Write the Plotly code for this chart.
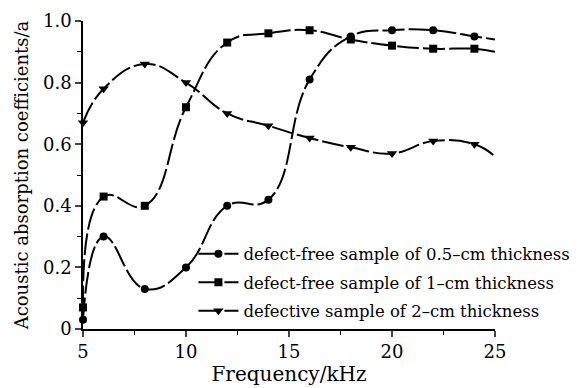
import plotly.graph_objects as go

freq = [5, 6, 8, 10, 12, 14, 16, 18, 20, 22, 24, 25]
free_05cm = [0.03, 0.30, 0.13, 0.20, 0.40, 0.42, 0.81, 0.95, 0.97, 0.97, 0.95, 0.94]
free_1cm = [0.07, 0.43, 0.40, 0.72, 0.93, 0.96, 0.97, 0.94, 0.92, 0.91, 0.91, 0.90]
defect_2cm = [0.67, 0.78, 0.86, 0.80, 0.70, 0.66, 0.62, 0.59, 0.57, 0.61, 0.60, 0.56]
names = ["defect-free sample of 0.5–cm thickness",
         "defect-free sample of 1–cm thickness",
         "defective sample of 2–cm thickness"]
symbols = ["circle", "square", "triangle-down"]
sizes = [8, 8, 9]

FONT = "DejaVu Serif"
fig = go.Figure()
for i, (ys, nm, sym, sz) in enumerate(zip([free_05cm, free_1cm, defect_2cm], names, symbols, sizes)):
    colors = ["black"] * (len(freq) - 1) + ["rgba(0,0,0,0)"]
    fig.add_trace(go.Scatter(
        x=freq, y=ys, name=nm, mode="lines+markers", legendgroup=f"g{i}",
        line=dict(color="black", width=2, shape="spline", smoothing=1.3, dash="22px,4px"),
        marker=dict(symbol=sym, size=sz, color=colors, line=dict(width=0)),
        cliponaxis=False,
    ))

fig.update_layout(
    width=580, height=388,
    margin=dict(l=75, r=93, t=13, b=67, autoexpand=False),
    paper_bgcolor="white", plot_bgcolor="white",
    font=dict(family=FONT, color="black", size=15),
    showlegend=True,
    legend=dict(x=0.268, y=0.30, xanchor="left", yanchor="top",
                bgcolor="rgba(0,0,0,0)", font=dict(size=16.5, family=FONT),
                traceorder="grouped", tracegroupgap=4, itemwidth=40),
)
fig.update_xaxes(
    range=[5, 25], tickvals=[5, 10, 15, 20, 25], ticks="outside", ticklen=6, tickwidth=1.5,
    showline=True, linecolor="black", linewidth=1.5, showgrid=False, zeroline=False,
    tickfont=dict(size=18, family=FONT),
    minor=dict(tickvals=[7.5, 12.5, 17.5, 22.5], ticks="outside", ticklen=4, tickwidth=1.2, tickcolor="black", showgrid=False),
    title=dict(text="Frequency/kHz", font=dict(size=20, family=FONT), standoff=6),
)
fig.update_yaxes(
    range=[0, 1.0], tickvals=[0, 0.2, 0.4, 0.6, 0.8, 1.0], ticktext=["0", "0.2", "0.4", "0.6", "0.8", "1.0"],
    ticks="outside", ticklen=6, tickwidth=1.5,
    showline=True, linecolor="black", linewidth=1.5, showgrid=False, zeroline=False,
    tickfont=dict(size=18, family=FONT),
    minor=dict(tickvals=[0.1, 0.3, 0.5, 0.7, 0.9], ticks="outside", ticklen=4, tickwidth=1.2, tickcolor="black", showgrid=False),
    title=dict(text="Acoustic absorption coefficients/a", font=dict(size=18, family=FONT), standoff=10),
)
fig.write_html("out.html")
